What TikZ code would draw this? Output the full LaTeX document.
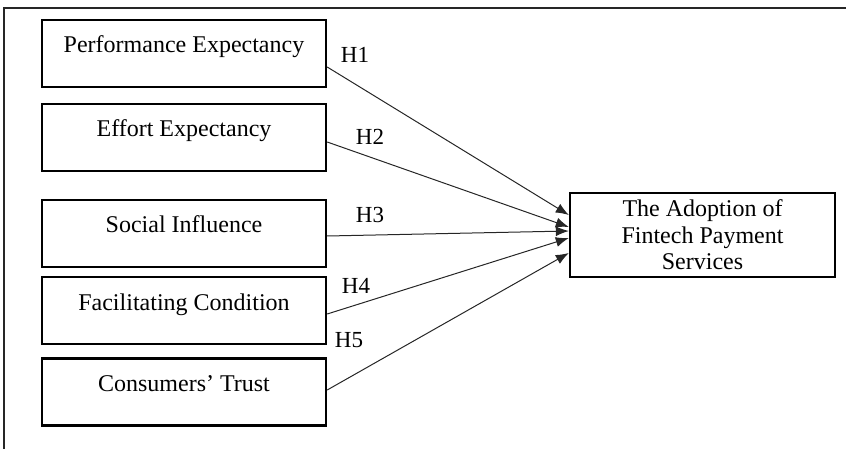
\documentclass[tikz,border=0pt]{standalone}
\usepackage{fontspec}
\setmainfont{Liberation Serif}
\usepackage{tikz}
\usetikzlibrary{arrows.meta}
\usetikzlibrary{positioning}

\begin{document}
\begin{tikzpicture}[x=1pt,y=-1pt]
\tikzstyle{factor} = [rectangle, draw=black, line width=2.4pt, minimum width=284pt,
minimum height=67pt, inner sep=0pt, text height=16pt, text depth=17pt,
font=\fontsize{24}{26.5}\selectfont]
\tikzstyle{outcome} = [rectangle, draw=black, line width=2.4pt, minimum width=265pt,
minimum height=84pt, inner sep=0pt, align=center, font=\fontsize{24}{26.5}\selectfont]
\tikzstyle{hyp} = [inner sep=0pt, font=\fontsize{23}{26}\selectfont]
\tikzstyle{line} = [draw=black!85, line width=1pt, -{Latex[length=13pt,width=10pt]}]
\useasboundingbox (0,0) rectangle (846,449);
% frame
\draw[line width=1.8pt, black!85] (4,449) -- (4,8) -- (846,8);
% factors
\node [factor] (pe) at (184,53.5) {Performance Expectancy};
\node [factor] (ee) at (184,137.5) {Effort Expectancy};
\node [factor] (si) at (184,233.5) {Social Influence};
\node [factor] (fc) at (184,310.5) {Facilitating Condition};
\node [factor] (ct) at (184,392) {Consumers’ Trust};
% outcome
\node [outcome] (fps) at (702.5,235) {The Adoption of\\Fintech Payment\\Services};
% hypotheses
\node [hyp] (h1) at (355,55) {H1};
\node [hyp] (h2) at (370,137) {H2};
\node [hyp] (h3) at (370,215) {H3};
\node [hyp] (h4) at (356,286) {H4};
\node [hyp] (h5) at (349,340) {H5};
\draw[line] ([yshift=-13.5pt]pe.east) -- ([yshift=20pt]fps.west);
\draw[line] ([yshift=-4.5pt]ee.east) -- ([yshift=8pt]fps.west);
\draw[line] ([yshift=-2.5pt]si.east) -- ([yshift=4pt]fps.west);
\draw[line] ([yshift=-3.5pt]fc.east) -- ([yshift=-3pt]fps.west);
\draw[line] ([yshift=2pt]ct.east) -- ([yshift=-18pt]fps.west);
\end{tikzpicture}
\end{document}
